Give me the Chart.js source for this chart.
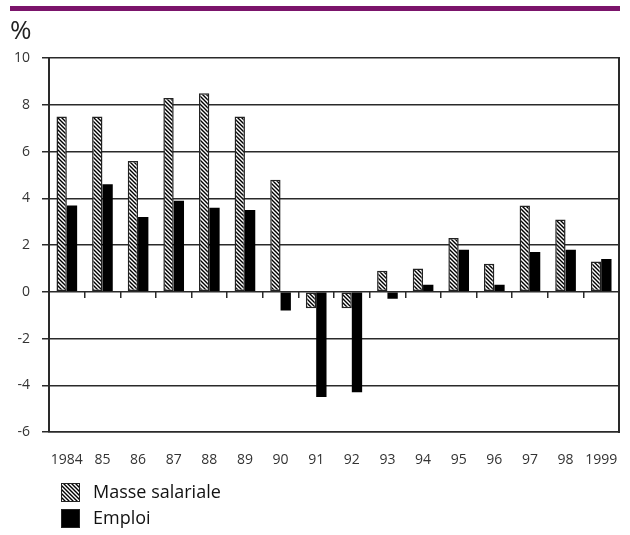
<!DOCTYPE html>
<html>
<head>
<meta charset="utf-8">
<script src="https://cdn.jsdelivr.net/npm/chart.js@4.4.0/dist/chart.umd.min.js"></script>
<style>
  html, body { margin: 0; padding: 0; background: #fff; }
</style>
</head>
<body>
<canvas id="myChart" width="630" height="535"></canvas>
<script>
// data
var years = ['1984', '85', '86', '87', '88', '89', '90', '91', '92', '93', '94', '95', '96', '97', '98', '1999'];
var masseSalariale = [7.5, 7.5, 5.6, 8.3, 8.5, 7.5, 4.8, -0.7, -0.7, 0.9, 1.0, 2.3, 1.2, 3.7, 3.1, 1.3];
var emploi = [3.7, 4.6, 3.2, 3.9, 3.6, 3.5, -0.8, -4.5, -4.3, -0.3, 0.3, 1.8, 0.3, 1.7, 1.8, 1.4];
var yMin = -6, yMax = 10, yStep = 2;

var font = '"Open Sans", sans-serif';
var lineColor = '#2a2a2a';

var ctx = document.getElementById('myChart').getContext('2d');

// diagonal hatch for "Masse salariale"
function makeHatch() {
    var c = document.createElement('canvas');
    c.width = 4; c.height = 4;
    var p = c.getContext('2d');
    p.fillStyle = '#fff';
    p.fillRect(0, 0, 4, 4);
    p.strokeStyle = '#000';
    p.lineWidth = 1.4;
    p.beginPath();
    p.moveTo(-1, -1); p.lineTo(5, 5);
    p.moveTo(-1, 3); p.lineTo(1, 5);
    p.moveTo(3, -1); p.lineTo(5, 1);
    p.stroke();
    return ctx.createPattern(c, 'repeat');
}

// purple rule across the top
var topRule = {
    id: 'topRule',
    beforeDraw: function(chart) {
        var c = chart.ctx;
        c.save();
        c.fillStyle = '#7b146b';
        c.fillRect(10, 6, 610, 5);
        c.restore();
    }
};

// legend stacked one item per line, under the x labels
var stackedLegend = {
    id: 'stackedLegend',
    afterDraw: function(chart) {
        var c = chart.ctx;
        var x = chart.chartArea.left + 12;
        var y = chart.chartArea.bottom + 51;
        c.save();
        chart.data.datasets.forEach(function(ds, i) {
            var top = y + i * 26;
            c.fillStyle = ds.backgroundColor;
            c.fillRect(x, top, 19, 19);
            c.lineWidth = 1;
            c.strokeStyle = '#222';
            c.strokeRect(x + 0.5, top + 0.5, 18, 18);
            c.fillStyle = '#111';
            c.font = '18px ' + font;
            c.textBaseline = 'middle';
            c.fillText(ds.label, x + 32, top + 10);
        });
        c.restore();
    }
};

var myChart = new Chart(ctx, {
    type: 'bar',
    data: {
        labels: years,
        datasets: [{
            label: 'Masse salariale',
            data: masseSalariale,
            xAxisID: 'x',
            yAxisID: 'y',
            backgroundColor: makeHatch(),
            borderColor: '#222',
            borderWidth: 1.5,
            borderSkipped: false
        }, {
            label: 'Emploi',
            data: emploi,
            xAxisID: 'x',
            yAxisID: 'y',
            backgroundColor: '#000',
            borderColor: '#000',
            borderWidth: 0
        }]
    },
    options: {
        responsive: false,
        animation: false,
        layout: { padding: { left: 10, right: 11, top: 0, bottom: 64 } },
        datasets: { bar: { categoryPercentage: 0.58, barPercentage: 1 } },
        plugins: {
            legend: { display: false },
            tooltip: { enabled: false },
            title: {
                display: true,
                text: '%',
                align: 'start',
                color: '#222',
                font: { size: 26, weight: 'normal', family: font },
                padding: { top: 16, bottom: 11 }
            }
        },
        scales: {
            x: {
                offset: true,
                grid: { display: false, drawTicks: false },
                border: { display: true, color: lineColor, width: 1.5 },
                ticks: { padding: 20, color: '#333', font: { size: 14, family: font }, maxRotation: 0, autoSkip: false },
                afterFit: function(scale) {
                    scale.height = 39;
                    scale.paddingLeft = 0;
                    scale.paddingRight = 0;
                }
            },
            // small tick marks hanging from the zero line
            x2: {
                type: 'category',
                position: { y: 0 },
                offset: true,
                grid: { offset: true, drawOnChartArea: false, drawTicks: true, tickLength: 6, color: lineColor, lineWidth: 1.5 },
                ticks: { display: false },
                border: { display: false },
                afterFit: function(scale) {
                    scale.height = 0;
                    scale.paddingLeft = 0;
                    scale.paddingRight = 0;
                }
            },
            y: {
                min: yMin,
                max: yMax,
                ticks: { stepSize: yStep, padding: 12, color: '#333', font: { size: 14, family: font } },
                grid: { color: lineColor, lineWidth: 1.5, tickLength: 7 },
                border: { display: true, color: lineColor, width: 2 },
                afterFit: function(scale) { scale.width = 39; }
            },
            // right side of the frame
            y2: {
                position: 'right',
                min: yMin,
                max: yMax,
                ticks: { display: false },
                grid: { display: false },
                border: { display: true, color: lineColor, width: 2 },
                afterFit: function(scale) { scale.width = 0; }
            }
        }
    },
    plugins: [topRule, stackedLegend]
});
</script>
</body>
</html>
